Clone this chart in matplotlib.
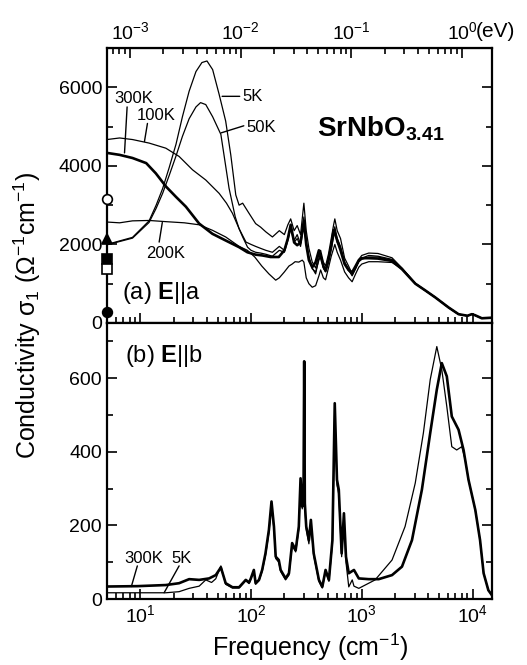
import matplotlib
matplotlib.use("Agg")
import matplotlib.pyplot as plt
from matplotlib.ticker import MultipleLocator, LogLocator, NullFormatter

plt.rcParams['font.family'] = ['Liberation Sans', 'DejaVu Sans']
plt.rcParams['mathtext.fontset'] = 'custom'
plt.rcParams['mathtext.rm'] = 'Liberation Sans'
plt.rcParams['mathtext.it'] = 'Liberation Sans:italic'
plt.rcParams['mathtext.bf'] = 'Liberation Sans:bold'

CM_PER_EV = 8065.54

# ---- (a) E||a, sigma_1 in Ohm^-1 cm^-1 ----
a5_f = [5, 8.5, 12, 13.9, 15.9, 18.2, 21, 24, 27.6, 31.8, 36, 40, 45, 51.5, 59, 65.6, 72.8, 78, 84, 96,
        110, 122, 136, 156, 180, 200, 215, 228, 245, 261, 280, 300, 315, 333, 357, 383, 410, 425, 450, 471,
        500, 530, 557, 571, 600, 643, 700, 760, 818, 880, 940, 1000, 1156, 1400, 1876, 2307, 3046, 3750,
        4615, 6080, 7484, 9000, 9860, 10500, 12140, 15000]
a5_s = [2000, 2180, 2600, 3000, 3420, 3950, 4550, 5250, 5900, 6400, 6630, 6670, 6450, 5820, 5140, 4280, 3260, 3000, 3050, 2790,
        2530, 2440, 2320, 2190, 2350, 2250, 2500, 2650, 2350, 2480, 2250, 3050, 2350, 1900, 1550, 1400, 1750, 1850, 1550, 1450,
        1750, 2150, 2500, 2650, 2350, 2150, 1650, 1450, 1250, 1400, 1620, 1720, 1780, 1770, 1660, 1400, 1010, 830,
        655, 395, 225, 185, 225, 200, 120, 135]

a50_f = [5, 8.5, 12, 13.9, 15.9, 18.2, 21, 24, 27.6, 31.8, 35, 39, 45, 53.4, 63.3, 72, 78, 90, 100,
         110, 122, 136, 156, 180, 200, 215, 228, 245, 261, 280, 300, 315, 333, 357, 383, 410, 425, 450, 471,
         500, 530, 557, 571, 600, 643, 700, 760, 818, 880, 940, 1000, 1156, 1400, 1876, 2307, 3046, 3750,
         4615, 6080, 7484, 9000, 9860, 10500, 12140, 15000]
a50_s = [1990, 2160, 2560, 2920, 3300, 3750, 4250, 4750, 5200, 5500, 5610, 5560, 5250, 4800, 3430, 2700, 2400, 2060, 2000,
         1950, 1900, 1850, 1800, 1950, 1850, 2150, 2450, 2100, 2250, 2000, 2700, 2100, 1700, 1400, 1250, 1650, 1750, 1400, 1300,
         1600, 1950, 2300, 2450, 2150, 1950, 1550, 1380, 1200, 1380, 1560, 1650, 1720, 1700, 1620, 1390, 1005, 826,
         652, 393, 223, 183, 223, 200, 120, 135]

a100_f = [5, 6.5, 8.5, 12, 17, 22.4, 29.6, 39, 51.5, 60, 68, 84, 93, 100,
          110, 122, 136, 156, 180, 200, 215, 228, 245, 261, 280, 300, 315, 333, 357, 383, 410, 425, 450, 471,
          500, 530, 557, 571, 600, 643, 700, 760, 818, 880, 940, 1000, 1156, 1400, 1876, 2307, 3046, 3750,
          4615, 6080, 7484, 9000, 9860, 10500, 12140, 15000]
a100_s = [4670, 4710, 4670, 4580, 4450, 4240, 3900, 3640, 3300, 3050, 2790, 2190, 1930, 1850,
          1800, 1780, 1750, 1700, 1850, 1800, 2100, 2400, 2050, 2150, 1950, 2550, 2000, 1650, 1380, 1300, 1600, 1700, 1400, 1320,
          1550, 1900, 2200, 2350, 2050, 1900, 1500, 1330, 1220, 1400, 1560, 1620, 1680, 1680, 1600, 1380, 1005, 825,
          652, 393, 223, 183, 224, 200, 120, 134]

a200_f = [5, 6.5, 8.5, 12, 17, 25, 34, 44.8, 59, 78, 92.7, 108, 125, 145, 167, 180, 200, 220, 235, 250, 270, 290,
          300, 315, 333, 357, 383, 410, 425, 450, 471, 500, 530, 557, 571, 600, 643, 700, 760, 818, 880, 940,
          1000, 1156, 1400, 1876, 2307, 3046, 3750, 4615, 6080, 7484, 9000, 9860, 10500, 12140, 15000]
a200_s = [2570, 2550, 2600, 2610, 2580, 2550, 2500, 2360, 2190, 1950, 1850, 1680, 1450, 1250, 1090, 1150, 1300, 1450, 1500, 1560, 1550, 1600,
          1550, 1150, 1000, 910, 950, 1200, 1350, 1150, 1100, 1400, 1700, 1900, 2000, 1800, 1600, 1300, 1150, 1050, 1250, 1420,
          1500, 1560, 1560, 1540, 1370, 1000, 820, 648, 390, 220, 180, 222, 198, 118, 132]

a300_f = [5, 6.5, 8.5, 11.3, 13.8, 17.1, 21, 25.8, 34, 44.8, 59, 78, 92.7, 110, 126, 150, 178, 200, 215, 228, 245,
          261, 280, 300, 315, 333, 357, 383, 410, 425, 450, 471, 500, 530, 557, 571, 600, 643, 700, 760, 818, 880,
          940, 1000, 1156, 1400, 1876, 2307, 3046, 3750, 4615, 6080, 7484, 9000, 9860, 10500, 12140, 15000]
a300_s = [4330, 4280, 4200, 4070, 3810, 3470, 3210, 2960, 2530, 2270, 2100, 1930, 1800, 1740, 1720, 1680, 1680, 1850, 2150, 2500, 2050,
          1980, 2050, 2600, 2000, 1600, 1420, 1550, 1850, 1700, 1450, 1330, 1600, 1950, 2360, 2300, 2100, 1850, 1500, 1350, 1290, 1450,
          1600, 1650, 1650, 1640, 1580, 1370, 1000, 828, 650, 395, 224, 184, 224, 200, 120, 135]

# dc conductivity points drawn on the left axis
dc_sigma = [3150, 2150, 1630, 1380, 290]
dc_marker = ['o', '^', 's', 's', 'o']
dc_filled = [False, True, True, False, True]

# ---- (b) E||b ----
b300_f = [5, 9.4, 17, 22.4, 27.6, 34, 41.8, 48, 53.4, 59, 68, 78, 89.6, 96, 99.6, 106, 110, 118, 126, 135, 145, 153,
          161, 167, 178, 185, 205, 220, 235, 253, 270, 280, 290, 298, 302, 306, 315, 333, 347, 368, 410, 440, 471,
          505, 543, 570, 597, 620, 658, 690, 720, 763, 850, 940, 1156, 1422, 1876, 2307, 2840, 3490, 4150, 4760,
          5280, 5860, 6500, 7480, 8300, 9200, 10600, 11700, 12600, 13900, 15000]
b300_s = [34, 35, 38, 43, 54, 52, 56, 65, 86, 43, 32, 32, 52, 45, 56, 79, 43, 52, 79, 124, 188, 265,
          197, 115, 106, 79, 56, 70, 152, 133, 197, 328, 251, 300, 646, 260, 197, 160, 215, 124, 52, 33, 79,
          52, 160, 532, 324, 297, 124, 233, 115, 70, 79, 56, 54, 54, 65, 88, 160, 297, 451, 569,
          641, 605, 496, 460, 405, 324, 242, 160, 70, 24, 10]

b5_f = [5, 17, 22.4, 27.6, 34, 39, 44, 48, 53.4, 59, 68, 78, 89.6, 96, 99.6, 106, 110, 118, 126, 135, 145, 153,
        161, 167, 178, 185, 205, 220, 235, 253, 270, 280, 290, 298, 302, 306, 315, 333, 347, 368, 410, 440, 471,
        505, 543, 570, 597, 620, 658, 690, 720, 763, 820, 850, 940, 1320, 1876, 2460, 3040, 3600, 4150, 4760,
        5280, 5860, 6500, 7200, 8000, 8600, 9200, 10600, 11700, 12600, 13900, 15000]
b5_s = [17, 17, 20, 29, 35, 52, 45, 55, 90, 40, 30, 30, 50, 42, 55, 75, 40, 50, 75, 118, 180, 255,
        190, 110, 100, 75, 52, 65, 145, 128, 190, 318, 245, 290, 620, 250, 190, 150, 205, 118, 48, 30, 75,
        48, 150, 520, 310, 285, 115, 220, 100, 33, 52, 35, 29, 52, 106, 197, 315, 451, 596, 686,
        623, 523, 414, 405, 414, 378, 324, 242, 160, 70, 24, 10]

XMIN, XMAX = 5, 15000
THICK, THIN = 1.9, 0.9

fig = plt.figure(figsize=(5.27, 6.65), dpi=100)
ax1 = fig.add_axes([0.203, 0.5143, 0.7306, 0.4135])
ax2 = fig.add_axes([0.203, 0.0992, 0.7306, 0.4151])

# panel (a)
ax1.plot(a5_f, a5_s, color='k', lw=THIN)
ax1.plot(a50_f, a50_s, color='k', lw=THIN)
ax1.plot(a100_f, a100_s, color='k', lw=THIN)
ax1.plot(a200_f, a200_s, color='k', lw=THIN)
ax1.plot(a300_f, a300_s, color='k', lw=THICK)
for s, m, filled in zip(dc_sigma, dc_marker, dc_filled):
    ax1.plot([XMIN], [s], marker=m, ms=7, mec='k', mew=1.2,
             mfc='k' if filled else 'white', clip_on=False, zorder=5)

# panel (b)
ax2.plot(b5_f, b5_s, color='k', lw=THIN)
ax2.plot(b300_f, b300_s, color='k', lw=THICK)

for ax in (ax1, ax2):
    ax.set_xscale('log')
    ax.set_xlim(XMIN, XMAX)
    ax.xaxis.set_major_locator(LogLocator(base=10))
    ax.xaxis.set_minor_locator(LogLocator(base=10, subs=range(2, 10)))
    ax.xaxis.set_minor_formatter(NullFormatter())
    ax.tick_params(which='both', direction='in', right=True, labelsize=14, width=1.2)
    ax.tick_params(which='major', length=7)
    ax.tick_params(which='minor', length=4)
    for sp in ax.spines.values():
        sp.set_linewidth(1.6)

ax1.set_ylim(0, 7000)
ax1.yaxis.set_major_locator(MultipleLocator(2000))
ax1.yaxis.set_minor_locator(MultipleLocator(1000))
ax1.tick_params(axis='x', labelbottom=False)

ax2.set_ylim(0, 750)
ax2.yaxis.set_major_locator(MultipleLocator(200))
ax2.yaxis.set_minor_locator(MultipleLocator(100))
ax2.tick_params(axis='x', labelsize=14)

# top energy axis
top = ax1.secondary_xaxis('top', functions=(lambda x: x / CM_PER_EV, lambda e: e * CM_PER_EV))
top.set_xticks([1e-3, 1e-2, 1e-1, 1e0], ['$10^{-3}$', '$10^{-2}$', '$10^{-1}$', '$10^{0}$'])
top.xaxis.set_minor_locator(LogLocator(base=10, subs=range(2, 10)))
top.xaxis.set_minor_formatter(NullFormatter())
top.tick_params(which='both', direction='in', labelsize=14, width=1.2)
top.tick_params(which='major', length=7)
top.tick_params(which='minor', length=4)
fig.text(0.903, 0.952, '(eV)', fontsize=15, ha='left', va='center')

# texts
ax1.text(394, 4740, r'$\mathbf{SrNbO}_{\mathbf{3.41}}$', fontsize=20, va='baseline')
ax1.text(6.9, 615, r'(a) $\mathbf{E}$||a', fontsize=17, va='baseline')
ax2.text(7.2, 645, r'(b) $\mathbf{E}$||b', fontsize=17, va='baseline')

lead = dict(arrowstyle='-', lw=1.0, color='k', shrinkA=0, shrinkB=0)
ax1.text(5.8, 5590, '300K', fontsize=12, va='baseline')
ax1.annotate('', xy=(7.2, 4330), xytext=(7.6, 5500), arrowprops=lead)
ax1.text(9.2, 5180, '100K', fontsize=12, va='baseline')
ax1.annotate('', xy=(10.9, 4620), xytext=(11.6, 5080), arrowprops=lead)
ax1.text(83, 5640, '5K', fontsize=12, va='baseline')
ax1.annotate('', xy=(54.8, 5770), xytext=(79, 5770), arrowprops=lead)
ax1.text(90, 4870, '50K', fontsize=12, va='baseline')
ax1.annotate('', xy=(53.7, 4840), xytext=(86, 5020), arrowprops=lead)
ax1.text(11.3, 1660, '200K', fontsize=12, va='baseline')
ax1.annotate('', xy=(15.8, 2560), xytext=(14.8, 2060), arrowprops=lead)

ax2.text(7.2, 98, '300K', fontsize=12, va='baseline')
ax2.annotate('', xy=(8.3, 34), xytext=(9.4, 90), arrowprops=lead)
ax2.text(19, 98, '5K', fontsize=12, va='baseline')
ax2.annotate('', xy=(16.4, 17), xytext=(22.4, 90), arrowprops=lead)

fig.text(0.052, 0.525, r'Conductivity σ$_1$ ($\Omega^{-1}$cm$^{-1}$)', fontsize=18,
         rotation=90, ha='center', va='center')
fig.text(0.588, 0.026, r'Frequency (cm$^{-1}$)', fontsize=18, ha='center', va='center')

fig.savefig('out.png', dpi=100)
